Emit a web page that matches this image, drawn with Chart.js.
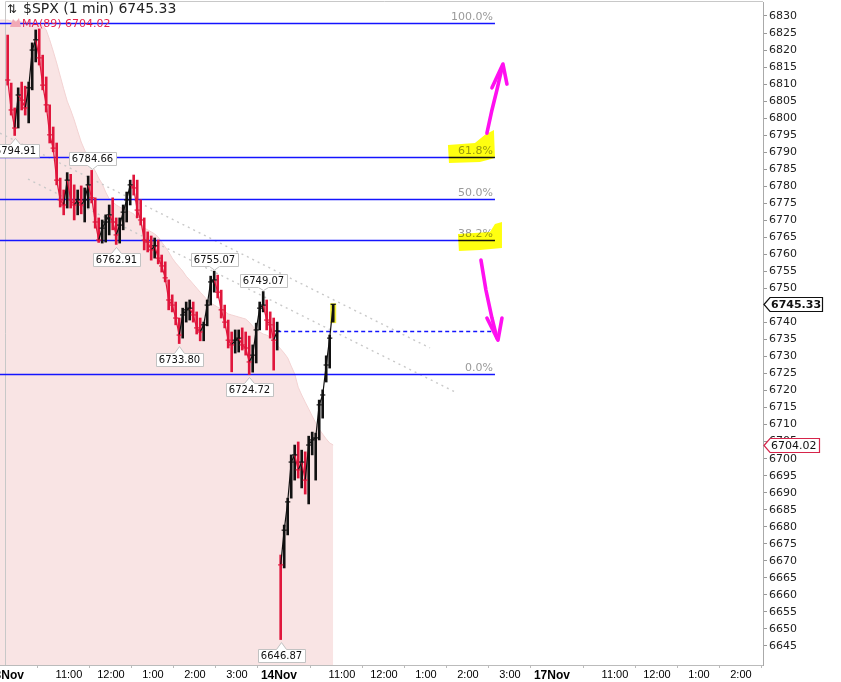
<!DOCTYPE html>
<html><head><meta charset="utf-8">
<script src="https://cdn.jsdelivr.net/npm/chart.js@4.4.1/dist/chart.umd.min.js"></script>
<style>html,body{margin:0;padding:0;background:#fff;}#wrap{width:841px;height:682px;position:relative;}</style>
</head><body><div id="wrap"><canvas id="c" width="841" height="682"></canvas></div>
<script>
// ---------------- data ----------------
const symbolTitle = '$SPX (1 min)';
const lastPrice = 6745.33;
const maLabel = 'MA(89)';
const maLast = 6704.02;

const barMinutes = 5;          // each drawn bar aggregates 5 one-minute bars
const sessionMinutes = 390;
const sessionNames = ['13Nov', '14Nov', '17Nov'];
const hourLabels = ['11:00', '12:00', '1:00', '2:00', '3:00'];
const hourOffsets = [90, 150, 210, 270, 330];

const highs = [6824.4,6810.3,6803.0,6808.9,6810.6,6809.4,6810.6,6822.1,6825.9,6826.2,
 6818.5,6812.1,6803.9,6797.4,6792.7,6782.4,6778.9,6784.0,6783.5,6780.4,
 6778.9,6780.1,6779.5,6783.0,6784.66,6776.6,6770.7,6770.1,6771.6,6774.5,
 6776.6,6770.7,6770.7,6774.5,6778.3,6781.8,6783.3,6781.8,6776.0,6770.7,
 6766.6,6765.4,6764.8,6764.2,6759.8,6757.8,6752.5,6748.1,6746.0,6741.3,
 6744.2,6746.0,6746.6,6746.0,6743.1,6741.3,6740.1,6746.6,6753.6,6755.07,
 6753.9,6749.5,6745.1,6740.7,6737.2,6737.8,6737.8,6738.4,6737.2,6736.0,
 6733.4,6739.8,6746.0,6749.07,6746.6,6743.1,6741.3,6740.1,
 6671.7,6680.5,6688.4,6701.1,6704.0,6704.9,6702.5,6702.0,6706.6,6707.8,6707.5,6717.2,6720.2,6730.2,6736.3,6745.33];
const lows = [6809.7,6800.9,6794.91,6797.1,6802.4,6800.9,6798.6,6808.3,6816.5,6815.6,
 6808.3,6801.8,6792.7,6790.1,6780.4,6773.9,6771.6,6773.6,6773.6,6770.1,
 6771.6,6771.9,6769.5,6773.6,6775.1,6767.7,6763.5,6763.3,6763.6,6765.7,
 6767.2,6762.91,6763.3,6767.2,6769.5,6774.5,6777.4,6770.7,6768.6,6761.3,
 6760.7,6758.3,6758.9,6757.2,6754.8,6751.9,6743.7,6743.1,6739.3,6733.80,
 6735.4,6740.1,6740.7,6740.1,6736.6,6734.6,6734.6,6739.0,6745.1,6748.9,
 6747.2,6741.3,6738.4,6732.5,6725.5,6731.0,6731.3,6731.9,6730.4,6724.72,
 6725.4,6728.1,6737.8,6743.1,6737.8,6735.4,6726.0,6731.9,
 6646.87,6667.9,6677.6,6688.4,6693.7,6694.3,6691.4,6689.6,6686.7,6701.1,6693.7,6705.5,6711.9,6722.5,6726.6,6740.1];
const closes = [6811.2,6802.4,6797.1,6806.8,6805.3,6803.0,6808.9,6820.0,6823.0,6817.7,
 6809.7,6803.9,6795.1,6791.2,6781.8,6776.0,6774.5,6781.8,6776.0,6774.5,
 6776.0,6774.5,6776.0,6780.4,6776.6,6769.5,6764.2,6767.7,6769.5,6771.6,
 6769.5,6765.7,6768.6,6772.4,6776.0,6780.4,6779.5,6773.0,6770.1,6764.2,
 6763.6,6761.3,6762.5,6758.9,6756.6,6753.1,6746.6,6745.1,6741.3,6736.3,
 6742.2,6743.7,6744.2,6742.2,6738.4,6737.2,6739.3,6745.1,6751.9,6752.5,
 6748.9,6743.7,6740.1,6734.8,6733.4,6734.8,6735.4,6733.4,6732.5,6728.4,
 6730.4,6737.8,6744.2,6745.1,6740.7,6739.3,6734.8,6737.5,
 6668.8,6679.0,6687.3,6699.0,6701.1,6696.7,6699.0,6693.7,6704.0,6705.5,6706.1,6715.8,6718.7,6727.5,6735.4,6745.33];
const sessionOpenPrices = [6821.5, 6671.0];
const session2Start = 78;      // first bar of 14Nov

const maLead = 3;              // MA values start 3 bars before the first price bar
const maValues = [6828.8,6828.8,6828.8,6828.8,6828.5,6828.5,6828.5,6828.2,6828.2,6828.2,
 6827.9,6827.7,6827.4,6827.1,6825.9,6823.0,6819.7,6816.2,6812.4,6808.6,
 6805.0,6802.4,6799.5,6796.2,6793.0,6790.6,6788.3,6786.2,6784.5,6782.4,
 6780.7,6778.3,6776.3,6775.4,6774.5,6773.9,6773.3,6773.0,6772.4,6771.9,
 6770.4,6768.9,6767.7,6767.2,6766.6,6766.0,6765.1,6763.6,6762.2,6760.7,
 6758.9,6757.5,6756.3,6755.1,6753.6,6752.5,6751.3,6750.1,6748.9,6747.8,
 6746.6,6745.7,6745.1,6744.5,6743.9,6743.3,6742.5,6742.2,6741.9,6741.6,
 6741.3,6741.0,6740.1,6738.9,6737.8,6737.2,6736.6,6736.3,6735.7,6734.8,
 6733.4,6732.2,6731.0,6729.6,6727.2,6724.9,6721.0,6718.7,6716.6,6714.6,
 6712.5,6710.5,6708.7,6707.2,6705.8,6704.6,6704.02];

const prevClose = 6737.5;
const fibHigh = 6828.0, fibLow = 6724.72;
const fibLevels = [1, 0.618, 0.5, 0.382, 0];

const swingIdx  = [2, 24, 31, 49, 59, 69, 73, 78];
const swingVal  = [6794.91, 6784.66, 6762.91, 6733.80, 6755.07, 6724.72, 6749.07, 6646.87];
const swingSide = ['low','high','low','low','high','low','high','low'];

const yTickFirst = 6645, yTickLast = 6830, yTickStep = 5;

// annotation geometry in data space (minute, price)
const fibEndMinute = 698.6;
const trendLines = [[[31.5, 6782.1], [641.5, 6719.6]], [[-8.5, 6795.6], [605.8, 6732.5]]];
const highlight618 = [[631.4,6792.1],[670.0,6792.7],[684.3,6795.1],[697.1,6796.5],[698.6,6788.3],[677.1,6787.1],[632.9,6786.8]];
const highlight382 = [[645.7,6766.0],[691.4,6766.6],[698.6,6768.9],[708.6,6769.5],[708.6,6761.9],[677.1,6761.3],[647.1,6761.0]];
const upArrowShaft = [[687.1,6795.6],[694.3,6802.4],[701.4,6808.3],[708.6,6814.7]];
const upArrowHead = [[694.3,6808.9],[710.0,6815.9],[715.7,6810.0]];
const downArrowShaft = [[678.6,6758.3],[685.7,6749.5],[694.3,6741.3],[701.4,6735.4]];
const downArrowHead = [[687.1,6741.3],[702.9,6734.8],[708.6,6741.3]];

// ---------------- derived ----------------
const xMin = -8.5, xMax = 1081.5;
const yMin = 6639.4, yMax = 6834.11;
const RED = '#e0163c', BLK = '#111111';
const barX = closes.map((_, k) => k * barMinutes + barMinutes / 2);
const opens = closes.map((c, k) => k === 0 ? sessionOpenPrices[0] : (k === session2Start ? sessionOpenPrices[1] : closes[k - 1]));
const barColors = closes.map((c, k) => c >= opens[k] ? BLK : RED);

const xTickVals = [], xTickText = [], xTickBold = [];
sessionNames.forEach((name, s) => {
  const start = s * sessionMinutes;
  xTickVals.push(start); xTickText.push(name); xTickBold.push(true);
  hourOffsets.forEach((off, j) => {
    if (start + off <= xMax) { xTickVals.push(start + off); xTickText.push(hourLabels[j]); xTickBold.push(false); }
  });
});
const yTickVals = [];
for (let v = yTickFirst; v <= yTickLast; v += yTickStep) yTickVals.push(v);

function closeSeries(from, to) {
  const d = [];
  for (let k = from; k < to; k++) d.push({x: barX[k], y: closes[k]});
  return d;
}
const segColor = ctx => ctx.p1.parsed.y < ctx.p0.parsed.y ? RED : BLK;

// ---------------- plugins ----------------
function P(chart, pt) { return [chart.scales.x.getPixelForValue(pt[0]), chart.scales.y.getPixelForValue(pt[1])]; }
function pathPts(ctx, chart, pts, close) {
  ctx.beginPath();
  pts.forEach((p, i) => { const q = P(chart, p); i ? ctx.lineTo(q[0], q[1]) : ctx.moveTo(q[0], q[1]); });
  if (close) ctx.closePath();
}
const FIB_BLUE = '#1414ff';

const overlay = {
  id: 'overlay',
  afterDatasetDraw(chart, args) {
    if (args.index !== 0) return;
    const ctx = chart.ctx, xs = chart.scales.x, ys = chart.scales.y;
    ctx.save();
    // frame
    ctx.strokeStyle = '#c8c8c8'; ctx.lineWidth = 1;
    ctx.beginPath();
    ctx.moveTo(5.5, chart.chartArea.bottom); ctx.lineTo(5.5, chart.chartArea.top - 0.5);
    ctx.lineTo(chart.chartArea.right, chart.chartArea.top - 0.5); ctx.stroke();
    // dotted trend lines
    ctx.strokeStyle = '#c9c9c9'; ctx.lineWidth = 1.4; ctx.setLineDash([2, 4]);
    trendLines.forEach(l => { pathPts(ctx, chart, l, false); ctx.stroke(); });
    ctx.setLineDash([]);
    // fib lines
    const x0 = xs.getPixelForValue(xMin), x1 = xs.getPixelForValue(fibEndMinute);
    ctx.strokeStyle = FIB_BLUE; ctx.lineWidth = 1.3;
    fibLevels.forEach(l => {
      const y = Math.round(ys.getPixelForValue(fibLow + l * (fibHigh - fibLow))) + 0.5;
      ctx.beginPath(); ctx.moveTo(x0, y); ctx.lineTo(x1, y); ctx.stroke();
    });
    // previous close dashed line
    const yp = Math.round(ys.getPixelForValue(prevClose)) + 0.5;
    ctx.setLineDash([4, 3]); ctx.strokeStyle = FIB_BLUE; ctx.lineWidth = 1.3;
    ctx.beginPath(); ctx.moveTo(xs.getPixelForValue(barX[session2Start - 1]), yp); ctx.lineTo(x1, yp); ctx.stroke();
    ctx.setLineDash([]);
    // last bar highlight
    const n = closes.length - 1;
    const lx = xs.getPixelForValue(barX[n]);
    const hy = ys.getPixelForValue(highs[n]), ly = ys.getPixelForValue(lows[n]);
    ctx.fillStyle = '#f4f03a';
    ctx.fillRect(lx - 3, hy - 1, 6, ly - hy + 2);
    ctx.restore();
  },
  afterDatasetsDraw(chart) {
    const ctx = chart.ctx, xs = chart.scales.x, ys = chart.scales.y;
    ctx.save();
    // fib labels
    ctx.font = '11px "DejaVu Sans"'; ctx.fillStyle = '#9a9a9a'; ctx.textAlign = 'right'; ctx.textBaseline = 'alphabetic';
    const xr = xs.getPixelForValue(fibEndMinute) - 2;
    fibLevels.forEach(l => {
      const y = ys.getPixelForValue(fibLow + l * (fibHigh - fibLow));
      ctx.fillText((l * 100).toFixed(1) + '%', xr, y - 3);
    });
    // yellow highlighter
    ctx.globalCompositeOperation = 'multiply';
    ctx.fillStyle = '#ffff10';
    [highlight618, highlight382].forEach(h => { pathPts(ctx, chart, h, true); ctx.fill(); });
    ctx.globalCompositeOperation = 'source-over';
    // magenta arrows
    ctx.strokeStyle = '#ff10f0'; ctx.lineWidth = 3.6; ctx.lineCap = 'round'; ctx.lineJoin = 'round';
    [upArrowShaft, upArrowHead, downArrowShaft, downArrowHead].forEach(a => { pathPts(ctx, chart, a, false); ctx.stroke(); });
    // swing labels
    ctx.font = '10px "DejaVu Sans"'; ctx.textAlign = 'center'; ctx.textBaseline = 'middle';
    ctx.lineWidth = 1; ctx.lineCap = 'butt';
    swingIdx.forEach((k, i) => {
      const px = Math.round(xs.getPixelForValue(barX[k])) + 0.5;
      const py = ys.getPixelForValue(swingVal[i]);
      const txt = swingVal[i].toFixed(2);
      const w = Math.round(ctx.measureText(txt).width + 6), h = 13;
      const bx = Math.round(px - w / 2) + 0.5;
      ctx.beginPath();
      let top;
      if (swingSide[i] === 'low') {
        top = Math.round(py + 9) + 0.5;
        ctx.moveTo(bx, top); ctx.lineTo(px - 5, top); ctx.lineTo(px, py + 3); ctx.lineTo(px + 5, top);
        ctx.lineTo(bx + w, top); ctx.lineTo(bx + w, top + h); ctx.lineTo(bx, top + h); ctx.closePath();
      } else {
        const bot = Math.round(py - 5) + 0.5; top = bot - h;
        ctx.moveTo(bx, top); ctx.lineTo(bx + w, top); ctx.lineTo(bx + w, bot); ctx.lineTo(px + 5, bot);
        ctx.lineTo(px, py - 1); ctx.lineTo(px - 5, bot); ctx.lineTo(bx, bot); ctx.closePath();
      }
      ctx.fillStyle = '#ffffff'; ctx.fill();
      ctx.strokeStyle = '#c2c2c2'; ctx.stroke();
      ctx.fillStyle = '#111'; ctx.fillText(txt, px, top + h / 2 + 0.5);
    });
    // header
    ctx.textAlign = 'left'; ctx.textBaseline = 'alphabetic';
    ctx.fillStyle = '#222'; ctx.font = '12px "DejaVu Sans"';
    ctx.fillText('\u21C5', 7, 13);
    ctx.font = '14px "DejaVu Sans"';
    ctx.fillText(symbolTitle + ' ' + lastPrice.toFixed(2), 23, 13);
    ctx.fillStyle = '#f2a9b6';
    ctx.beginPath(); ctx.moveTo(10, 27); ctx.lineTo(13, 19); ctx.lineTo(16, 22); ctx.lineTo(19, 18); ctx.lineTo(21, 27); ctx.closePath(); ctx.fill();
    ctx.fillStyle = '#e8254d'; ctx.font = '11px "DejaVu Sans"';
    ctx.fillText(maLabel + ' ' + maLast.toFixed(2), 22, 27);
    ctx.restore();
  },
  afterDraw(chart) {
    const ctx = chart.ctx, ys = chart.scales.y, left = chart.chartArea.right;
    ctx.save();
    function tag(value, border, bold, right) {
      const y = Math.round(ys.getPixelForValue(value)) + 0.5;
      ctx.beginPath();
      ctx.moveTo(left + 1, y); ctx.lineTo(left + 7, y - 7); ctx.lineTo(right, y - 7);
      ctx.lineTo(right, y + 7); ctx.lineTo(left + 7, y + 7); ctx.closePath();
      ctx.fillStyle = '#fff'; ctx.fill();
      ctx.strokeStyle = border; ctx.lineWidth = 1.2; ctx.stroke();
      ctx.fillStyle = '#111'; ctx.font = (bold ? 'bold ' : '') + '11px "DejaVu Sans"';
      ctx.textAlign = 'left'; ctx.textBaseline = 'middle';
      ctx.fillText(value.toFixed(2), left + 8, y + 0.5);
    }
    tag(lastPrice, '#111', true, 822.5);
    tag(maLast, '#d6244a', false, 819.5);
    ctx.restore();
  }
};

// ---------------- chart ----------------
new Chart(document.getElementById('c'), {
  data: {
    datasets: [
      { type: 'line', label: 'MA', order: 10,
        data: maValues.map((v, i) => ({x: (i - maLead) * barMinutes + barMinutes / 2, y: v})),
        fill: 'start', backgroundColor: '#f9e4e4', borderColor: '#f3d3d3', borderWidth: 1, pointRadius: 0, tension: 0 },
      { type: 'bar', label: 'range', order: 3,
        data: barX.map((x, k) => ({x: x, y: [lows[k], highs[k]]})),
        backgroundColor: barColors, barThickness: 2, grouped: false },
      { type: 'line', label: 'close1', order: 2, data: closeSeries(0, session2Start),
        borderWidth: 1.2, borderColor: BLK, segment: {borderColor: segColor},
        pointStyle: 'line', pointRadius: 2.6, pointBorderWidth: 1.2,
        pointBorderColor: barColors.slice(0, session2Start), tension: 0 },
      { type: 'line', label: 'close2', order: 2, data: closeSeries(session2Start, closes.length),
        borderWidth: 1.2, borderColor: BLK, segment: {borderColor: segColor},
        pointStyle: 'line', pointRadius: 2.6, pointBorderWidth: 1.2,
        pointBorderColor: barColors.slice(session2Start), tension: 0 }
    ]
  },
  options: {
    responsive: false, animation: false, devicePixelRatio: 1,
    layout: {autoPadding: false, padding: {top: 2, left: 0, right: 0, bottom: 0}},
    plugins: {legend: {display: false}, tooltip: {enabled: false}},
    scales: {
      x: {
        type: 'linear', min: xMin, max: xMax, offset: false,
        afterBuildTicks: s => { s.ticks = xTickVals.map(v => ({value: v})); },
        afterFit: s => { s.height = 17; s.paddingLeft = 0; s.paddingRight = 0; },
        ticks: {
          autoSkip: false, maxRotation: 0, minRotation: 0, padding: 0, color: '#000',
          callback: (v, i) => xTickText[i],
          font: c => (c.index !== undefined && xTickBold[c.index])
            ? {family: '"Liberation Sans", Arial, sans-serif', size: 12, weight: 'bold'}
            : {family: '"Liberation Sans", Arial, sans-serif', size: 11, weight: 'normal'}
        },
        grid: {drawOnChartArea: false, drawTicks: true, tickLength: 3, color: '#bbbbbb'},
        border: {display: true, color: '#bbbbbb'}
      },
      y: {
        type: 'linear', position: 'right', min: yMin, max: yMax,
        afterBuildTicks: s => { s.ticks = yTickVals.map(v => ({value: v})); },
        afterFit: s => { s.width = 78; s.paddingTop = 0; s.paddingBottom = 0; },
        ticks: {autoSkip: false, padding: 2, color: '#222', callback: v => String(v),
          font: {family: '"DejaVu Sans"', size: 11}},
        grid: {drawOnChartArea: false, drawTicks: true, tickLength: 4, color: '#999999'},
        border: {display: true, color: '#aaaaaa'}
      }
    }
  },
  plugins: [overlay]
});
</script>
</body></html>
